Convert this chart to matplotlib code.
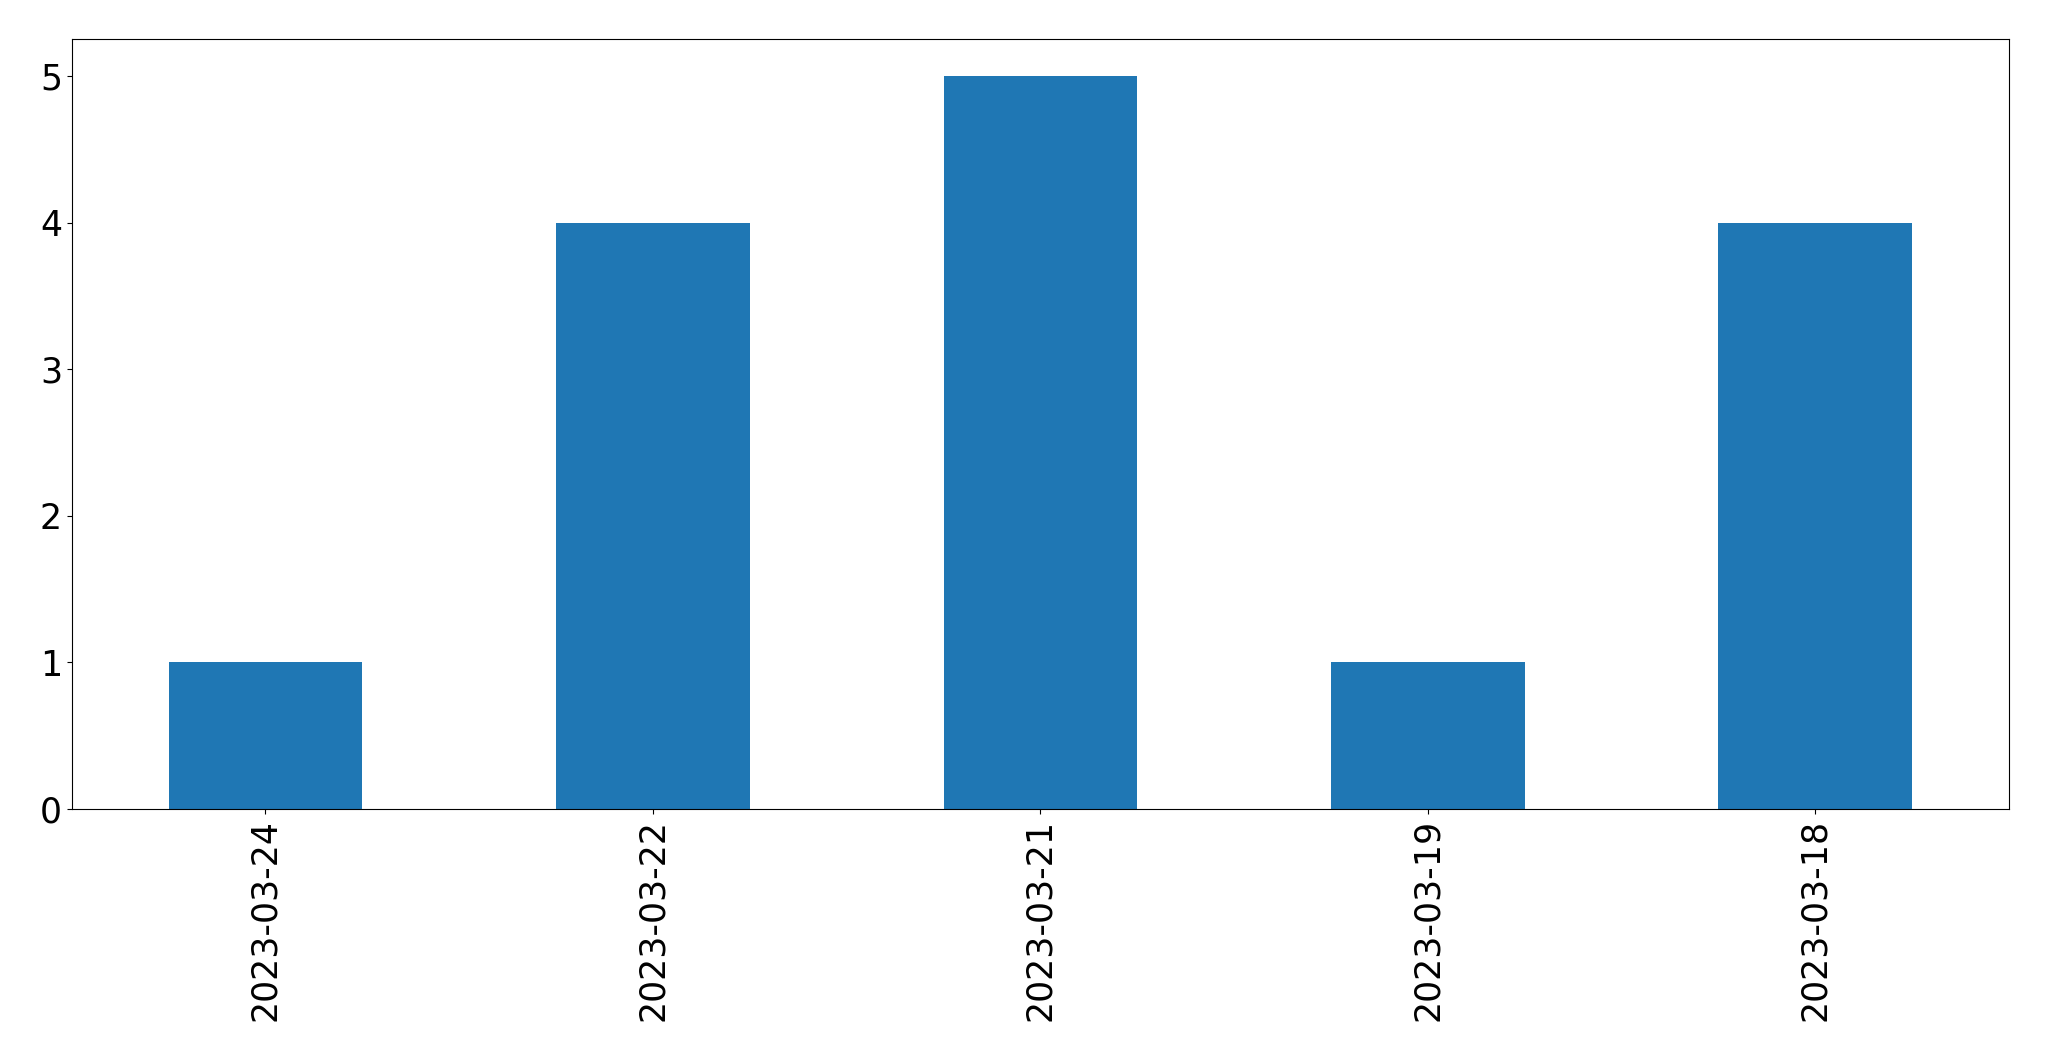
import matplotlib

matplotlib.use("Agg")
import matplotlib.pyplot as plt
import pandas as pd

dates = ["2023-03-24", "2023-03-22", "2023-03-21", "2023-03-19", "2023-03-18"]
counts = [1, 4, 5, 1, 4]

fig = plt.figure(figsize=(20.49, 10.61), dpi=100)
ax = fig.add_axes([0.035, 0.2375, 0.9455, 0.7255])

s = pd.Series(counts, index=dates)
s.plot(kind="bar", ax=ax, color="#1f77b4", fontsize=25)

fig.savefig("out.png", dpi=100)
